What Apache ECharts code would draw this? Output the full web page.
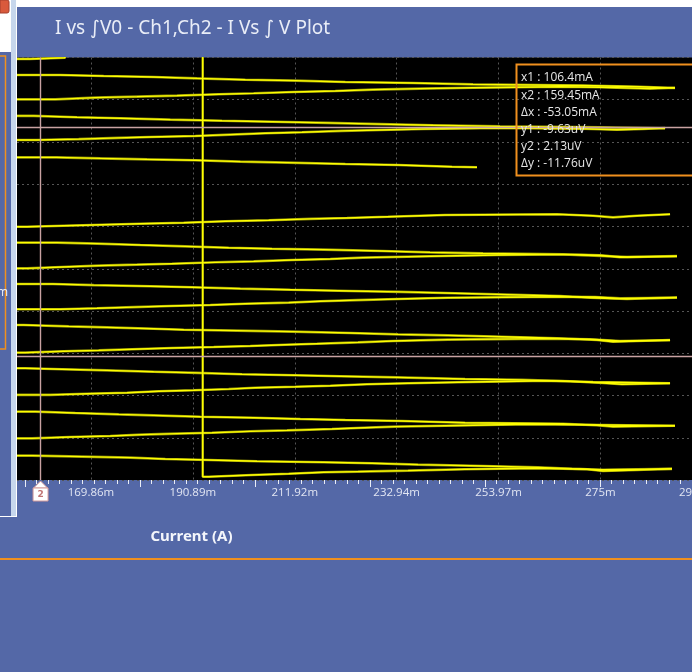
<!DOCTYPE html>
<html>
<head>
<meta charset="utf-8">
<script src="https://cdn.jsdelivr.net/npm/echarts@6/dist/echarts.min.js"></script>
<style>
  html, body { margin: 0; padding: 0; background: #5468a7; }
  #chart { width: 692px; height: 672px; }
</style>
</head>
<body>
<div id="chart"></div>
<script>
// Axis ranges (x in mA, y in uV)
const xMin = 154.59;
const xMax = 298.03;
const yMin = -16.0;
const yMax = 5.70;

// Labelled x positions and their texts
const xTickValues = [169.86, 190.89, 211.92, 232.94, 253.97, 275.00, 296.03];
const xTickLabels = ['169.86m', '190.89m', '211.92m', '232.94m', '253.97m', '275m', '296.03m'];
// Horizontal division lines
const yDivisions = [-16.0, -13.83, -11.66, -9.49, -7.32, -5.15, -2.98, -0.81, 1.36, 3.53, 5.70];
// Ruler marks under the plot
const rulerMajorStart = 156.24;
const rulerMajorStep = 23.74;
const rulerMinorPerMajor = 10;

// Cursor readout
const cursorX2 = 159.45;
const cursorY1 = -9.63;
const cursorY2 = 2.13;
const cursorLines = ['x1 : 106.4mA', 'x2 : 159.45mA', '\u0394x : -53.05mA', 'y1 : -9.63uV', 'y2 : 2.13uV', '\u0394y : -11.76uV'];

// Staircase sweeps: [current mA, integrated voltage uV], each pair starts a flat step
const sweep00 = [[154.59, 5.62], [157.27, 5.69], [164.50, 5.88]];
const sweep01 = [[154.59, 4.80], [163.53, 4.75], [172.48, 4.70], [182.80, 4.63], [191.74, 4.56], [201.71, 4.51], [212.03, 4.44], [222.35, 4.39], [236.32, 4.32], [248.71, 4.26], [271.41, 4.20], [283.18, 4.13], [290.40, 4.13]];
const sweep02 = [[154.59, 3.55], [162.49, 3.64], [170.75, 3.69], [179.36, 3.74], [187.61, 3.81], [196.22, 3.86], [203.44, 3.93], [211.70, 3.98], [220.29, 4.05], [228.07, 4.10], [237.77, 4.15], [248.71, 4.20], [266.66, 4.17], [274.92, 4.10], [285.24, 4.15], [290.40, 4.15]];
const sweep03 = [[154.59, 2.70], [158.04, 2.63], [166.97, 2.58], [175.91, 2.51], [186.23, 2.45], [196.90, 2.40], [207.22, 2.34], [218.57, 2.28], [229.51, 2.22], [240.45, 2.16], [254.28, 2.11], [274.92, 2.06], [288.34, 2.06]];
const sweep04 = [[154.59, 1.46], [158.72, 1.51], [167.32, 1.57], [175.58, 1.62], [182.10, 1.67], [191.39, 1.74], [198.61, 1.81], [205.84, 1.86], [213.41, 1.93], [221.67, 1.98], [229.51, 2.03], [238.39, 2.08], [254.28, 2.04], [271.41, 1.99], [278.43, 2.03], [283.80, 2.08], [288.34, 2.08]];
const sweep05 = [[154.59, 0.57], [162.70, 0.52], [171.78, 0.47], [181.42, 0.42], [191.39, 0.35], [200.68, 0.30], [210.32, 0.23], [222.35, 0.18], [233.23, 0.09], [244.37, 0.06], [249.53, 0.06]];
const sweep06 = [[154.59, -2.99], [156.65, -2.94], [164.23, -2.89], [172.13, -2.84], [180.04, -2.79], [189.00, -2.71], [197.58, -2.66], [206.54, -2.59], [215.13, -2.54], [222.70, -2.48], [231.16, -2.39], [242.93, -2.35], [266.04, -2.43], [273.48, -2.51], [277.60, -2.43], [282.56, -2.35], [289.37, -2.35]];
const sweep07 = [[154.59, -3.81], [162.84, -3.86], [171.10, -3.93], [180.04, -4.00], [189.33, -4.07], [198.28, -4.12], [207.22, -4.17], [217.89, -4.24], [229.92, -4.31], [239.83, -4.36], [250.77, -4.41], [267.28, -4.50], [276.36, -4.55], [280.49, -4.50], [290.81, -4.50]];
const sweep08 = [[154.59, -5.13], [156.65, -5.06], [163.88, -4.99], [171.45, -4.94], [179.36, -4.89], [186.58, -4.82], [195.52, -4.77], [203.44, -4.70], [211.35, -4.65], [219.25, -4.58], [226.00, -4.51], [239.83, -4.44], [253.66, -4.41], [267.28, -4.46], [274.92, -4.56], [279.05, -4.51], [290.81, -4.51]];
const sweep09 = [[154.59, -5.93], [162.02, -5.99], [170.42, -6.05], [182.10, -6.10], [190.71, -6.17], [200.68, -6.23], [211.00, -6.29], [223.38, -6.34], [233.64, -6.41], [244.99, -6.48], [255.72, -6.55], [266.66, -6.64], [272.86, -6.70], [280.49, -6.62], [290.81, -6.62]];
const sweep10 = [[154.59, -7.23], [163.53, -7.18], [171.10, -7.12], [178.68, -7.06], [186.23, -7.01], [194.49, -6.95], [201.71, -6.89], [210.67, -6.82], [217.19, -6.76], [224.76, -6.70], [233.23, -6.64], [243.55, -6.59], [266.66, -6.60], [273.89, -6.67], [279.05, -6.64], [290.81, -6.64]];
const sweep11 = [[154.59, -8.04], [155.97, -8.11], [165.26, -8.16], [173.16, -8.23], [182.80, -8.28], [189.00, -8.33], [200.00, -8.38], [211.35, -8.45], [223.38, -8.52], [233.23, -8.57], [243.55, -8.64], [254.69, -8.72], [266.04, -8.81], [274.30, -8.90], [277.60, -8.81], [289.37, -8.81]];
const sweep12 = [[154.59, -9.46], [156.30, -9.39], [164.23, -9.34], [171.45, -9.27], [180.04, -9.22], [186.58, -9.17], [195.19, -9.12], [202.74, -9.05], [209.97, -9.00], [216.51, -8.93], [224.97, -8.86], [232.20, -8.79], [243.55, -8.74], [263.57, -8.77], [272.86, -8.86], [279.05, -8.82], [289.37, -8.82]];
const sweep13 = [[154.59, -10.26], [156.30, -10.31], [163.88, -10.37], [173.16, -10.44], [182.80, -10.50], [191.74, -10.57], [201.03, -10.62], [212.03, -10.67], [221.32, -10.73], [233.02, -10.81], [247.06, -10.86], [258.82, -10.93], [268.73, -11.02], [275.54, -11.08], [279.46, -11.03], [289.37, -11.03]];
const sweep14 = [[154.59, -11.63], [161.46, -11.57], [169.04, -11.52], [177.29, -11.44], [183.84, -11.39], [191.06, -11.33], [198.28, -11.26], [203.77, -11.21], [212.03, -11.16], [219.25, -11.08], [226.83, -11.03], [235.29, -10.98], [245.61, -10.90], [263.98, -10.97], [273.48, -11.03], [289.37, -11.03]];
const sweep15 = [[154.59, -12.49], [158.37, -12.56], [166.62, -12.63], [175.58, -12.68], [182.80, -12.75], [192.42, -12.80], [203.44, -12.87], [213.06, -12.92], [222.35, -12.97], [234.05, -13.06], [247.06, -13.11], [267.28, -13.19], [274.30, -13.26], [277.60, -13.21], [290.40, -13.21]];
const sweep16 = [[154.59, -13.86], [157.68, -13.79], [165.59, -13.74], [173.85, -13.67], [180.39, -13.62], [187.61, -13.57], [194.84, -13.50], [202.74, -13.45], [210.32, -13.38], [219.60, -13.33], [224.76, -13.26], [232.61, -13.21], [242.93, -13.14], [260.47, -13.16], [270.79, -13.21], [290.40, -13.21]];
const sweep17 = [[154.59, -14.75], [157.68, -14.80], [168.00, -14.85], [177.97, -14.92], [185.20, -14.97], [194.16, -15.04], [204.12, -15.09], [217.89, -15.14], [227.86, -15.21], [237.36, -15.28], [250.77, -15.35], [262.12, -15.42], [269.14, -15.47], [275.54, -15.43], [289.78, -15.43]];
const sweep18 = [[192.92, 5.90], [192.92, -15.83], [194.16, -15.74], [203.09, -15.68], [210.67, -15.60], [217.89, -15.57], [224.97, -15.52], [235.29, -15.45], [247.06, -15.40], [262.12, -15.45], [272.24, -15.54], [275.54, -15.49], [282.56, -15.42], [289.78, -15.42]];

const sweeps = [sweep00, sweep01, sweep02, sweep03, sweep04, sweep05, sweep06, sweep07, sweep08, sweep09,
                sweep10, sweep11, sweep12, sweep13, sweep14, sweep15, sweep16, sweep17, sweep18];

// Ruler tick values
const rulerMajor = [];
const rulerMinor = [];
for (let k = 0; rulerMajorStart + k * rulerMajorStep <= xMax; k++) {
  rulerMajor.push(+(rulerMajorStart + k * rulerMajorStep).toFixed(3));
}
for (let k = -1; rulerMajorStart + k * rulerMajorStep <= xMax; k++) {
  for (let j = 1; j < rulerMinorPerMajor; j++) {
    const v = rulerMajorStart + k * rulerMajorStep + j * rulerMajorStep / rulerMinorPerMajor;
    if (v >= xMin && v <= xMax) rulerMinor.push(+v.toFixed(3));
  }
}

const chart = echarts.init(document.getElementById('chart'), null, { renderer: 'canvas' });

const series = [];
sweeps.forEach(function (pts) {
  series.push({
    type: 'line', data: pts, step: 'end', symbol: 'none', silent: true, animation: false,
    xAxisIndex: 0, yAxisIndex: 0, z: 3,
    lineStyle: { color: '#8e8e06', width: 2.6 }
  });
  series.push({
    type: 'line', data: pts, step: 'end', symbol: 'none', silent: true, animation: false,
    xAxisIndex: 0, yAxisIndex: 0, z: 4,
    lineStyle: { color: '#ffff00', width: 1.4 }
  });
});
// Cursor lines
series.push({
  type: 'line', data: [], silent: true, animation: false, z: 5,
  markLine: {
    symbol: 'none', silent: true, animation: false,
    label: { show: false },
    lineStyle: { color: '#c9a2a2', type: 'solid', width: 1.4 },
    data: [{ xAxis: cursorX2 }, { yAxis: cursorY2 }, { yAxis: cursorY1 }]
  }
});

const option = {
  backgroundColor: '#5468a7',
  animation: false,
  grid: {
    left: 17, top: 57.5, right: -20, bottom: 192,
    containLabel: false, outerBoundsMode: 'none',
    show: true, backgroundColor: '#000000', borderWidth: 0
  },
  xAxis: [
    {
      type: 'value', min: xMin, max: xMax, position: 'bottom',
      axisLine: { show: false },
      axisTick: { show: false, customValues: xTickValues },
      axisLabel: {
        customValues: xTickValues, color: '#e2e6f3', fontSize: 11.5,
        fontFamily: 'Open Sans', margin: 7,
        formatter: function (v) {
          const i = xTickValues.findIndex(function (t) { return Math.abs(t - v) < 1e-6; });
          return i >= 0 ? xTickLabels[i] : '';
        }
      },
      splitLine: { show: true, lineStyle: { color: '#555555', type: [2, 3], width: 1 } }
    },
    {
      type: 'value', min: xMin, max: xMax, position: 'bottom',
      axisLine: { show: false },
      axisTick: { show: true, customValues: rulerMajor, length: 7, lineStyle: { color: '#e9edf7', width: 1 } },
      axisLabel: { show: false },
      splitLine: { show: false }
    },
    {
      type: 'value', min: xMin, max: xMax, position: 'bottom',
      axisLine: { show: false },
      axisTick: { show: true, customValues: rulerMinor, length: 4, lineStyle: { color: '#e9edf7', width: 1 } },
      axisLabel: { show: false },
      splitLine: { show: false }
    }
  ],
  yAxis: {
    type: 'value', min: yMin, max: yMax,
    axisLine: { show: false },
    axisTick: { show: false, customValues: yDivisions },
    axisLabel: { show: false, customValues: yDivisions },
    splitLine: { show: true, lineStyle: { color: '#555555', type: [2, 3], width: 1 } }
  },
  series: series
};

chart.setOption(option);

const cx = chart.convertToPixel({ xAxisIndex: 0 }, cursorX2);
const gridBottom = chart.convertToPixel({ yAxisIndex: 0 }, yMin);

const graphics = [
  // title strip
  { type: 'rect', z: 100, shape: { x: 17, y: 0, width: 675, height: 7 }, style: { fill: '#ffffff' } },
  { type: 'rect', z: 100, shape: { x: 17, y: 7, width: 675, height: 50 }, style: { fill: '#5468a7' } },
  { type: 'text', z: 101, x: 55, y: 29, style: {
      text: 'I vs \u222BV0 - Ch1,Ch2 - I Vs \u222B V Plot', fill: '#e9edf7',
      font: '19px "Noto Sans", "DejaVu Sans", sans-serif', verticalAlign: 'middle' } },
  // axis caption
  { type: 'text', z: 101, x: 191.5, y: 537, style: {
      text: 'Current (A)', fill: '#f4f6fb', font: 'bold 15px "Noto Sans", sans-serif',
      align: 'center', verticalAlign: 'middle' } },
  // separator
  { type: 'rect', z: 100, shape: { x: 0, y: 558, width: 692, height: 2 }, style: { fill: '#f0901e' } },
  // side panel
  { type: 'rect', z: 100, shape: { x: 0, y: 0, width: 17, height: 517 }, style: { fill: '#ffffff' } },
  { type: 'rect', z: 101, shape: { x: 11, y: 0, width: 5, height: 516 }, style: { fill: '#c6d6ec' } },
  { type: 'rect', z: 101, shape: { x: 0, y: 52, width: 11, height: 464 }, style: { fill: '#5468a7' } },
  { type: 'rect', z: 102, shape: { x: 0, y: 0, width: 9, height: 13, r: [0, 2, 2, 0] }, style: { fill: '#d95a3c', stroke: '#a33e2c', lineWidth: 1 } },
  { type: 'polyline', z: 102, shape: { points: [[0, 56], [5.5, 56], [5.5, 349], [0, 349]] }, style: { stroke: '#f0901e', lineWidth: 1.5, fill: null } },
  { type: 'text', z: 102, x: 8, y: 293, style: { text: 'm', fill: '#f0f2f8', font: '12px "Open Sans", sans-serif', align: 'right', verticalAlign: 'middle' } },
  // cursor readout box
  { type: 'rect', z: 110, shape: { x: 516.5, y: 64.5, width: 200, height: 111 }, style: { fill: null, stroke: '#f0901e', lineWidth: 2 } },
  // cursor 2 marker
  { type: 'polygon', z: 110, shape: { points: [[cx, gridBottom + 1], [cx - 7, gridBottom + 8], [cx + 7, gridBottom + 8]] }, style: { fill: '#ffffff', stroke: '#d49a9a', lineWidth: 1 } },
  { type: 'rect', z: 110, shape: { x: cx - 7.5, y: gridBottom + 8, width: 15, height: 13 }, style: { fill: '#ffffff', stroke: '#d49a9a', lineWidth: 1 } },
  { type: 'text', z: 111, x: cx, y: gridBottom + 14.5, style: { text: '2', fill: '#c07474', font: 'bold 9px "DejaVu Sans", sans-serif', align: 'center', verticalAlign: 'middle' } }
];
cursorLines.forEach(function (t, i) {
  graphics.push({ type: 'text', z: 111, x: 521, y: 78 + i * 17.2, style: {
    text: t, fill: '#e6e6e6', font: '12px "Open Sans", sans-serif', verticalAlign: 'middle' } });
});

chart.setOption({ graphic: graphics });
</script>
</body>
</html>
